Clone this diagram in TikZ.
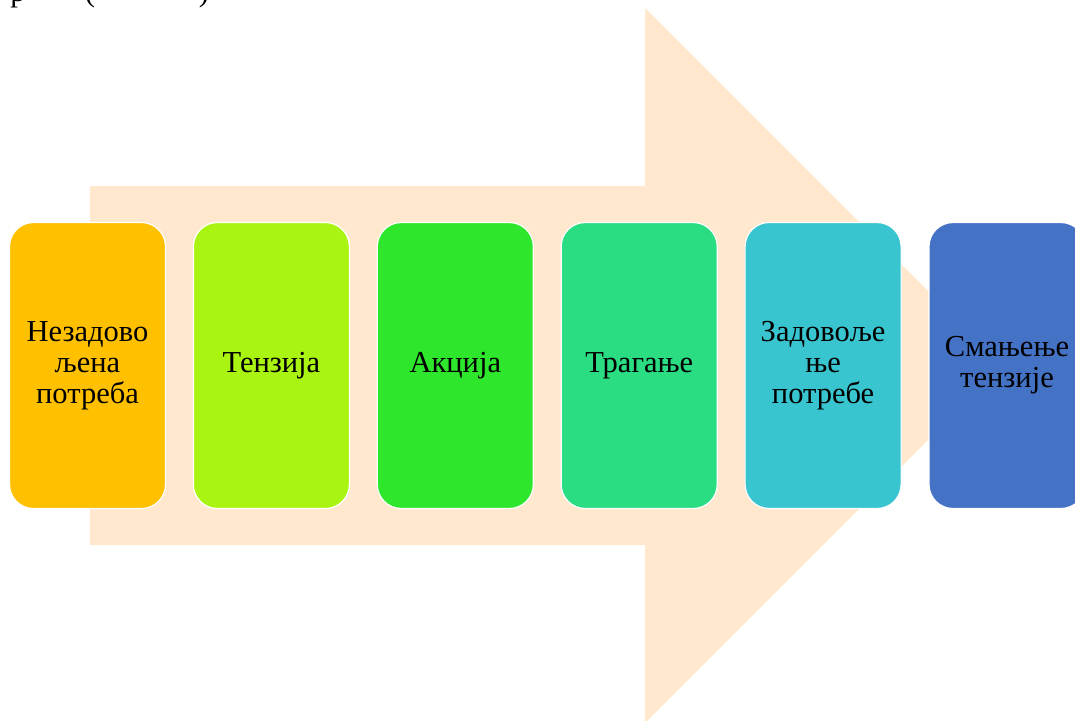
\documentclass[tikz,border=0pt]{standalone}
\usepackage{fontspec}
\setmainfont{Liberation Serif}
\usetikzlibrary{positioning}

\definecolor{arrowfill}{HTML}{FFE8CD}
\definecolor{stepA}{HTML}{FFC000}
\definecolor{stepB}{HTML}{A9F411}
\definecolor{stepC}{HTML}{2EE62B}
\definecolor{stepD}{HTML}{2ADC82}
\definecolor{stepE}{HTML}{39C5CF}
\definecolor{stepF}{HTML}{4472C4}

\tikzset{
  stepbox/.style={draw=white, line width=1.2pt, rounded corners=24pt,
    minimum width=156pt, minimum height=286pt, inner sep=0pt,
    text width=150pt, align=center, font=\fontsize{30.5}{31}\selectfont},
  captext/.style={anchor=base, inner sep=0pt, font=\fontsize{30.5}{31}\selectfont}
}

\begin{document}
\begin{tikzpicture}[x=1pt,y=-1pt]
 \useasboundingbox (0,0) rectangle (1075,720);
 \clip (0,0) rectangle (1075,720);

 % cut line of text at the top
 \node[captext] (capp) at (18,1.5) {p};
 \node[captext] (capl) at (90,1.5) {(};
 \node[captext] (capr) at (204,1.5) {)};

 % big arrow behind
 \def\midy{365.5}
 \fill[arrowfill] (90,186) -- (645,186) -- (645,8) -- (1002.5,\midy)
    -- (645,723) -- (645,545) -- (90,545) -- cycle;

 % steps
 \foreach \i/\col/\txt in {0/stepA/{Незадово\\љена\\потреба}, 1/stepB/{Тензија},
     2/stepC/{Акција}, 3/stepD/{Трагање}, 4/stepE/{Задовоље\\ње\\потребе},
     5/stepF/{Смањење\\тензије}} {
   \node[stepbox, fill=\col] (s\i) at (87.5+\i*183.9, \midy) {\txt};
 }

\end{tikzpicture}
\end{document}
